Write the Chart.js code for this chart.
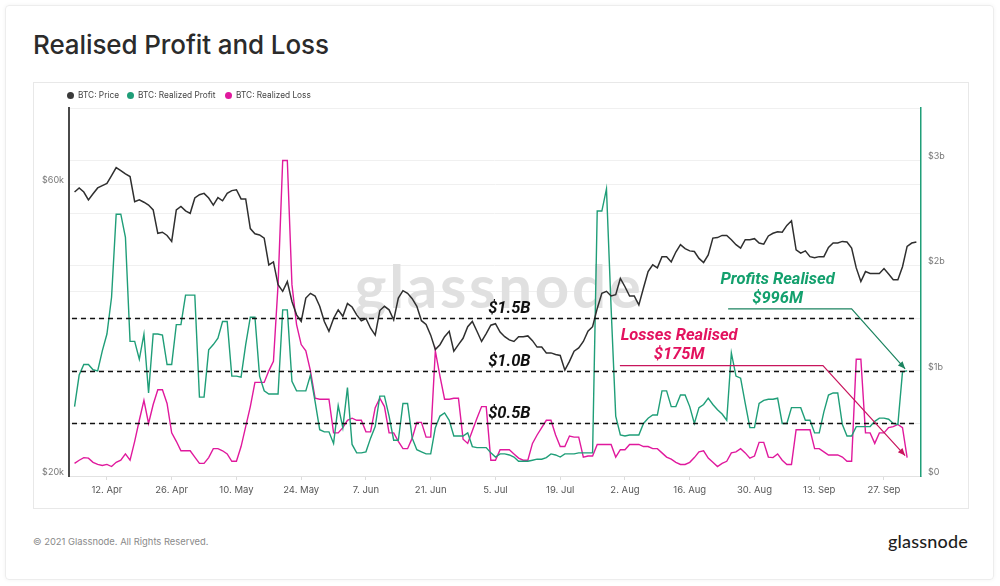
<!DOCTYPE html>
<html>
<head>
<meta charset="utf-8">
<title>Realised Profit and Loss</title>
<script src="https://cdn.jsdelivr.net/npm/chart.js@4.4.0/dist/chart.umd.min.js"></script>
<style>
  html, body { margin: 0; padding: 0; background: #fff; }
  body { width: 1000px; height: 586px; position: relative; overflow: hidden; font-family: Inter, "Noto Sans", sans-serif; }
  .card { position: absolute; left: 5px; top: 5px; width: 987px; height: 573px; border: 1px solid #ededed; border-radius: 4px; box-shadow: 0 0 4px rgba(0,0,0,0.05); }
  h1 { position: absolute; left: 33px; top: 30px; margin: 0; font-size: 26px; line-height: 30px; font-weight: 500; color: #2b2b2b; letter-spacing: -0.1px; }
  .panel { position: absolute; left: 33px; top: 82px; width: 934px; height: 425px; border: 1px solid #e8e8e8; pointer-events: none; }
  .chart-box { position: absolute; left: 33px; top: 82px; width: 935px; height: 426px; }
  .legend-item { position: absolute; top: 89px; height: 12px; font-size: 8.3px; line-height: 12px; color: #444; white-space: nowrap; }
  .legend-item i { display: inline-block; width: 7px; height: 7px; border-radius: 50%; margin-right: 4px; vertical-align: -0.5px; }
  .footer { position: absolute; left: 33px; top: 536px; font-size: 9.4px; color: #8a8a8a; }
  .logo { position: absolute; right: 32px; top: 530px; font-family: Lato, sans-serif; font-size: 18px; font-weight: 500; color: #1e1e1e; letter-spacing: 0.2px; }
</style>
</head>
<body>
<div class="card"></div>
<h1>Realised Profit and Loss</h1>
<div class="chart-box"><canvas id="pnl"></canvas></div>
<div class="panel"></div>
<div class="legend-item" style="left:67px"><i style="background:#3a3a3a"></i>BTC: Price</div>
<div class="legend-item" style="left:127px"><i style="background:#1f9e78"></i>BTC: Realized Profit</div>
<div class="legend-item" style="left:225px"><i style="background:#e0199d"></i>BTC: Realized Loss</div>
<div class="footer">© 2021 Glassnode. All Rights Reserved.</div>
<div class="logo">glassnode</div>

<script>
// days are counted from 12 Apr 2021 (day 0)
const tickDays = [0, 14, 28, 42, 56, 70, 84, 98, 112, 126, 140, 154, 168];
const tickLabels = ['12. Apr', '26. Apr', '10. May', '24. May', '7. Jun', '21. Jun', '5. Jul',
  '19. Jul', '2. Aug', '16. Aug', '30. Aug', '13. Sep', '27. Sep'];

// BTC price, $k, daily from day -7
const priceStart = -7;
const price = [
  58.3, 59.2, 58.3, 56.6, 57.9, 59.2, 59.7,
  60.2, 62.0, 63.9, 63.2, 62.4, 61.8, 56.2,
  56.6, 56.1, 55.5, 54.5, 49.9, 50.1, 49.5,
  48.4, 54.5, 55.2, 54.3, 53.8, 57.0, 57.7,
  58.0, 57.0, 55.5, 57.1, 56.4, 58.0, 58.6,
  58.8, 56.8, 56.8, 50.8, 49.8, 49.6, 49.0,
  44.3, 44.8, 41.1, 40.1, 41.6, 38.6, 36.7,
  35.8, 39.1, 39.8, 39.4, 37.9, 35.8, 34.5,
  36.2, 37.4, 36.5, 38.3, 37.8, 36.7, 35.9,
  36.2, 34.9, 34.0, 37.3, 37.9, 37.4, 36.0,
  39.1, 40.2, 39.8, 39.0, 37.9, 35.9, 35.4,
  34.0, 32.2, 32.8, 33.8, 34.5, 32.0, 32.8,
  33.6, 35.1, 35.8, 34.5, 33.2, 34.2, 35.3,
  35.5, 34.4, 33.8, 33.4, 33.2, 33.8, 33.8,
  33.9, 33.3, 32.5, 32.5, 31.8, 31.8, 31.6,
  31.5, 29.8, 30.8, 32.0, 32.4, 33.2, 34.5,
  35.1, 37.6, 39.8, 40.1, 39.4, 39.6, 42.1,
  40.8, 39.4, 39.4, 38.1, 40.6, 43.2, 44.3,
  43.8, 45.7, 45.7, 44.8, 46.5, 47.8, 47.1,
  46.7, 46.6, 45.4, 44.7, 46.0, 49.0, 49.1,
  49.5, 49.5, 48.7, 47.8, 47.2, 48.7, 48.7,
  48.9, 48.1, 47.9, 49.4, 49.9, 50.2, 50.1,
  51.4, 52.3, 46.9, 46.3, 46.7, 45.7, 45.5,
  45.7, 45.7, 47.3, 48.1, 48.1, 48.4, 48.3,
  47.2, 43.8, 41.6, 43.2, 42.9, 42.9, 42.9,
  43.7, 42.8, 41.9, 41.9, 44.0, 47.5, 48.1, 48.3
];

// realised profit / loss, $B, daily from day -7
const flowStart = -7;
const profit = [
  0.66, 0.96, 1.06, 1.06, 1.01, 1.00, 1.19,
  1.35, 1.70, 2.49, 2.49, 2.27, 1.28, 1.28,
  1.11, 1.35, 0.79, 1.35, 1.35, 1.34, 1.06,
  1.06, 1.44, 1.44, 1.72, 1.72, 1.72, 0.75,
  0.75, 1.20, 1.25, 1.31, 1.47, 1.47, 0.95,
  0.95, 0.94, 1.25, 1.51, 1.51, 0.95, 0.81,
  0.78, 0.78, 0.78, 1.58, 1.58, 0.90, 0.81,
  0.81, 0.81, 0.96, 0.71, 0.44, 0.42, 0.42,
  0.31, 0.67, 0.46, 0.84, 0.30, 0.22, 0.22,
  0.23, 0.36, 0.47, 0.76, 0.76, 0.57, 0.34,
  0.34, 0.69, 0.69, 0.36, 0.25, 0.23, 0.21,
  0.21, 0.46, 0.57, 0.60, 0.53, 0.38, 0.38,
  0.38, 0.41, 0.28, 0.27, 0.27, 0.27, 0.22,
  0.18, 0.21, 0.21, 0.20, 0.18, 0.14, 0.14,
  0.14, 0.15, 0.16, 0.16, 0.175, 0.21, 0.20,
  0.18, 0.21, 0.21, 0.21, 0.22, 0.22, 0.22,
  0.22, 2.52, 2.52, 2.73, 1.60, 0.57, 0.39,
  0.38, 0.39, 0.39, 0.39, 0.50, 0.55, 0.58,
  0.58, 0.81, 0.81, 0.66, 0.66, 0.77, 0.77,
  0.66, 0.50, 0.65, 0.68, 0.74, 0.68, 0.63,
  0.59, 0.53, 1.17, 0.95, 0.93, 0.69, 0.46,
  0.46, 0.69, 0.72, 0.73, 0.73, 0.74, 0.50,
  0.50, 0.65, 0.65, 0.65, 0.53, 0.53, 0.41,
  0.41, 0.61, 0.77, 0.79, 0.79, 0.49, 0.38,
  0.38, 0.47, 0.47, 0.47, 0.47, 0.52, 0.55,
  0.55, 0.54, 0.50, 0.49, 0.99, 1.00
];
const loss = [
  0.12, 0.15, 0.175, 0.17, 0.13, 0.11, 0.10,
  0.11, 0.09, 0.13, 0.15, 0.21, 0.15, 0.33,
  0.53, 0.72, 0.50, 0.68, 0.82, 0.82, 0.69,
  0.41, 0.33, 0.24, 0.24, 0.24, 0.18, 0.12,
  0.12, 0.175, 0.26, 0.26, 0.24, 0.21, 0.14,
  0.14, 0.28, 0.47, 0.66, 0.89, 0.89, 0.89,
  1.00, 1.09, 1.82, 3.00, 3.00, 1.82, 1.44,
  1.25, 1.19, 1.00, 0.74, 0.73, 0.73, 0.73,
  0.41, 0.41, 0.46, 0.53, 0.55, 0.53, 0.53,
  0.42, 0.42, 0.65, 0.74, 0.66, 0.41, 0.41,
  0.33, 0.26, 0.26, 0.36, 0.51, 0.51, 0.37,
  0.37, 1.19, 0.95, 0.73, 0.73, 0.74, 0.74,
  0.35, 0.31, 0.43, 0.55, 0.66, 0.66, 0.15,
  0.15, 0.25, 0.25, 0.25, 0.21, 0.17, 0.15,
  0.15, 0.31, 0.39, 0.46, 0.53, 0.53, 0.39,
  0.28, 0.28, 0.38, 0.37, 0.37, 0.18, 0.19,
  0.19, 0.30, 0.30, 0.30, 0.30, 0.18, 0.25,
  0.25, 0.30, 0.30, 0.30, 0.28, 0.28, 0.26,
  0.26, 0.22, 0.18, 0.16, 0.13, 0.11, 0.11,
  0.13, 0.175, 0.23, 0.24, 0.17, 0.13, 0.09,
  0.12, 0.14, 0.22, 0.23, 0.26, 0.22, 0.17,
  0.19, 0.32, 0.32, 0.18, 0.175, 0.21, 0.15,
  0.11, 0.11, 0.44, 0.44, 0.44, 0.44, 0.26,
  0.26, 0.23, 0.20, 0.20, 0.20, 0.18, 0.14,
  0.14, 1.11, 1.11, 0.41, 0.41, 0.31, 0.41,
  0.41, 0.46, 0.47, 0.49, 0.46, 0.175
];

const priceTicks = [20, 40, 60, 80];
const priceTickLabels = ['$20k', '', '$60k', ''];
const flowTicks = [0, 0.5, 1, 1.5, 2, 2.5, 3, 3.5];
const flowTickLabels = ['$0', '', '$1b', '', '$2b', '', '$3b', ''];
const guideLevels = [0.5, 1.0, 1.5];
const guideLabels = ['$0.5B', '$1.0B', '$1.5B'];

const PRICE = '#2f2f2f';
const GREEN = '#1f9e78';
const MAGENTA = '#e0199d';
const tickFont = { family: 'Inter', size: 9 };

const toPoints = (arr, start) => arr.map((v, i) => ({ x: start + i, y: v }));

// callouts: text placed in axis units, arrow ends on the series' last point
const callouts = [
  { title: 'Profits Realised', amount: '$996M', color: '#13a06d', lineColor: '#1c8460',
    day: 145, titleLevel: 1.87, amountLevel: 1.68, lineFrom: 134.3, lineTo: 161, lineLevel: 1.59, series: 1 },
  { title: 'Losses Realised', amount: '$175M', color: '#e3125f', lineColor: '#c8155d',
    day: 123.7, titleLevel: 1.335, amountLevel: 1.155, lineFrom: 110.9, lineTo: 154.8, lineLevel: 1.05, series: 2 }
];

const overlay = {
  id: 'overlay',
  beforeDatasetsDraw(chart) {
    const { ctx } = chart;
    const xs = chart.scales.x, yf = chart.scales.yFlow;
    // watermark
    const word = 'glassnode';
    const targetW = 286;
    ctx.save();
    ctx.font = '700 60px Lato';
    ctx.fillStyle = '#e0e0e0';
    ctx.textBaseline = 'alphabetic';
    const widths = [...word].map(ch => ctx.measureText(ch).width);
    const gap = (targetW - widths.reduce((a, b) => a + b, 0)) / (word.length - 1);
    let cx = xs.getPixelForValue(84.5) - targetW / 2;
    const by = yf.getPixelForValue(1.6);
    [...word].forEach((ch, i) => { ctx.fillText(ch, cx, by); cx += widths[i] + gap; });
    ctx.restore();
  },
  afterDatasetsDraw(chart) {
    const { ctx, chartArea } = chart;
    const xs = chart.scales.x, yf = chart.scales.yFlow;
    const px = v => xs.getPixelForValue(v);
    const py = v => yf.getPixelForValue(v);
    ctx.save();
    // dashed guide levels
    ctx.setLineDash([5, 4]);
    ctx.lineWidth = 1.4;
    ctx.strokeStyle = '#111';
    ctx.fillStyle = '#111';
    ctx.font = 'italic 700 16.5px Roboto';
    ctx.textAlign = 'center';
    ctx.textBaseline = 'middle';
    guideLevels.forEach((lv, i) => {
      const y = Math.round(py(lv)) + 0.5;
      ctx.beginPath();
      ctx.moveTo(chartArea.left + 3, y);
      ctx.lineTo(chartArea.right - 4, y);
      ctx.stroke();
      ctx.fillText(guideLabels[i], px(87), y - 10);
    });
    ctx.setLineDash([]);
    // callouts
    callouts.forEach(c => {
      ctx.fillStyle = c.color;
      ctx.fillText(c.title, px(c.day), py(c.titleLevel));
      ctx.fillText(c.amount, px(c.day), py(c.amountLevel));
      const pts = chart.getDatasetMeta(c.series).data;
      const tip = pts[pts.length - 1];
      const tx = tip.x - 2, ty = tip.y - 2;
      const x0 = px(c.lineFrom), x1 = px(c.lineTo), y0 = py(c.lineLevel);
      ctx.strokeStyle = c.lineColor;
      ctx.fillStyle = c.lineColor;
      ctx.lineWidth = 1.2;
      ctx.beginPath();
      ctx.moveTo(x0, y0);
      ctx.lineTo(x1, y0);
      ctx.lineTo(tx, ty);
      ctx.stroke();
      const a = Math.atan2(ty - y0, tx - x1);
      ctx.beginPath();
      ctx.moveTo(tx, ty);
      ctx.lineTo(tx - 8 * Math.cos(a - 0.4), ty - 8 * Math.sin(a - 0.4));
      ctx.lineTo(tx - 8 * Math.cos(a + 0.4), ty - 8 * Math.sin(a + 0.4));
      ctx.closePath();
      ctx.fill();
    });
    ctx.restore();
  }
};

new Chart(document.getElementById('pnl'), {
  type: 'line',
  data: {
    datasets: [
      { label: 'BTC: Price', data: toPoints(price, priceStart), yAxisID: 'yPrice',
        borderColor: PRICE, borderWidth: 1.5, pointRadius: 0 },
      { label: 'BTC: Realized Profit', data: toPoints(profit, flowStart), yAxisID: 'yFlow',
        borderColor: GREEN, borderWidth: 1.4, pointRadius: 0 },
      { label: 'BTC: Realized Loss', data: toPoints(loss, flowStart), yAxisID: 'yFlow',
        borderColor: MAGENTA, borderWidth: 1.4, pointRadius: 0 }
    ]
  },
  options: {
    animation: false,
    responsive: true,
    maintainAspectRatio: false,
    layout: { padding: { top: 26, left: 0, right: 0, bottom: 0 } },
    plugins: { legend: { display: false }, tooltip: { enabled: false } },
    scales: {
      x: {
        type: 'linear', min: -8.2, max: 176,
        afterBuildTicks: s => { s.ticks = tickDays.map(v => ({ value: v })); },
        afterFit: s => { s.height = 32; s.paddingLeft = 0; s.paddingRight = 0; },
        ticks: { callback: v => tickLabels[tickDays.indexOf(v)], autoSkip: false, maxRotation: 0,
          font: { family: 'Inter', size: 9.5 }, color: '#555', padding: 4 },
        grid: { drawOnChartArea: false, drawTicks: true, tickLength: 4, color: '#dcdcdc' },
        border: { color: '#e2e2e2', width: 1 }
      },
      yPrice: {
        type: 'logarithmic', position: 'left', min: 20, max: 80,
        afterBuildTicks: s => { s.ticks = priceTicks.map(v => ({ value: v })); },
        afterFit: s => { s.width = 36; s.paddingTop = 0; s.paddingBottom = 0; },
        ticks: { callback: v => priceTickLabels[priceTicks.indexOf(v)], font: tickFont, color: '#777',
          padding: 5, labelOffset: -4 },
        grid: { color: '#f0f0f0', drawTicks: false },
        border: { color: '#4a4a4a', width: 2 }
      },
      yFlow: {
        type: 'linear', position: 'right', min: 0, max: 3.5,
        afterBuildTicks: s => { s.ticks = flowTicks.map(v => ({ value: v })); },
        afterFit: s => { s.width = 47; s.paddingTop = 0; s.paddingBottom = 0; },
        ticks: { callback: v => flowTickLabels[flowTicks.indexOf(v)], font: tickFont, color: '#777',
          padding: 7, labelOffset: -4 },
        grid: { color: '#f0f0f0', drawTicks: false },
        border: { color: GREEN, width: 1.5 }
      }
    }
  },
  plugins: [overlay]
});
</script>
</body>
</html>
